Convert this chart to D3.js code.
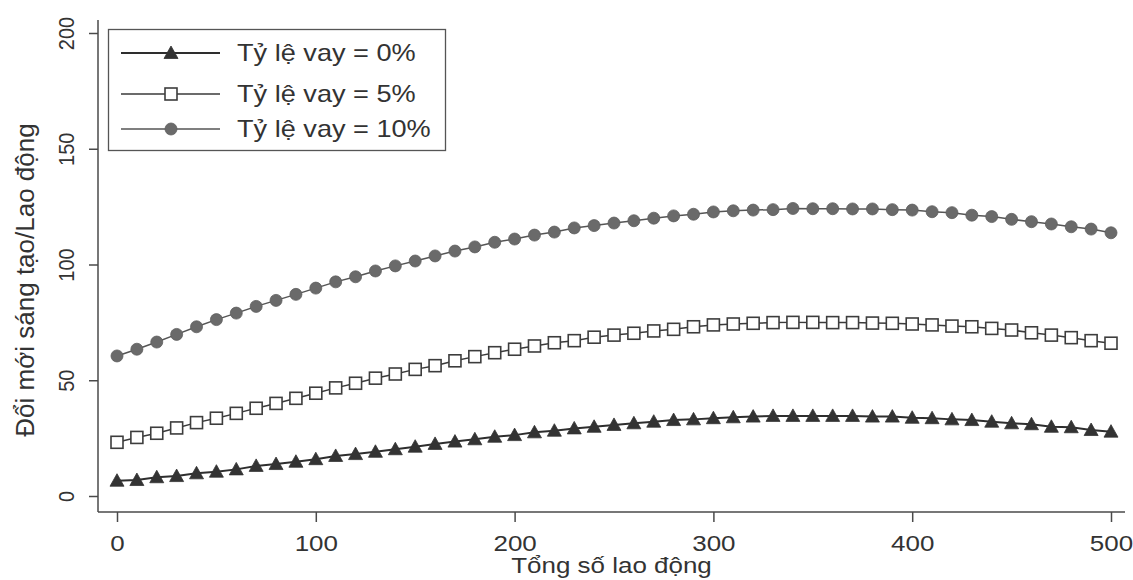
<!DOCTYPE html>
<html>
<head>
<meta charset="utf-8">
<script src="https://cdn.jsdelivr.net/npm/d3@7"></script>
<style>
  body { margin: 0; background: #fff; }
  svg { display: block; font-family: "Liberation Sans", Arial, sans-serif; }
</style>
</head>
<body>
<svg id="chart" width="1133" height="580"></svg>
<script>
// x categories: total labour
const labour = [0, 10, 20, 30, 40, 50, 60, 70, 80, 90, 100, 110, 120, 130, 140, 150, 160, 170, 180, 190,
  200, 210, 220, 230, 240, 250, 260, 270, 280, 290, 300, 310, 320, 330, 340, 350, 360, 370, 380, 390,
  400, 410, 420, 430, 440, 450, 460, 470, 480, 490, 500];

// innovation per labour
const rate0 = [6.6, 6.9, 8.1, 8.6, 9.8, 10.5, 11.5, 13.0, 13.8, 14.8, 15.9, 17.3, 18.1, 19.1, 20.2, 21.3, 22.5, 23.5, 24.5, 25.6,
  26.3, 27.5, 28.2, 29.2, 29.9, 30.7, 31.4, 32.1, 32.8, 33.1, 33.6, 34.0, 34.3, 34.6, 34.6, 34.6, 34.6, 34.6, 34.3, 34.3,
  33.8, 33.6, 33.1, 32.8, 32.1, 31.4, 31.0, 29.9, 29.7, 28.5, 27.8];
const rate5 = [23.2, 25.3, 27.1, 29.4, 31.7, 33.6, 35.7, 37.9, 40.0, 42.2, 44.4, 46.7, 48.7, 50.9, 52.7, 54.7, 56.3, 58.4, 60.2, 61.9,
  63.4, 64.8, 66.2, 67.1, 68.6, 69.5, 70.3, 71.3, 72.0, 73.1, 73.9, 74.3, 74.6, 74.9, 75.0, 75.0, 74.9, 74.9, 74.7, 74.6,
  74.3, 73.9, 73.4, 73.1, 72.4, 71.7, 70.5, 69.5, 68.4, 67.1, 66.0];
const rate10 = [60.5, 63.4, 66.5, 69.8, 73.1, 76.2, 79.0, 81.9, 84.5, 87.1, 89.8, 92.5, 94.7, 97.2, 99.4, 101.5, 103.7, 105.8, 107.6, 109.6,
  111.0, 112.7, 114.0, 115.8, 116.8, 117.9, 118.9, 120.0, 121.0, 121.7, 122.7, 123.2, 123.5, 123.7, 124.2, 124.1, 124.1, 124.0, 124.0, 123.7,
  123.5, 122.8, 122.4, 121.3, 120.7, 119.5, 118.5, 117.5, 116.3, 115.3, 113.7];

const seriesNames = ["Tỷ lệ vay = 0%", "Tỷ lệ vay = 5%", "Tỷ lệ vay = 10%"];
const xTicks = [0, 100, 200, 300, 400, 500];
const yTicks = [0, 50, 100, 150, 200];
const xTitle = "Tổng số lao động";
const yTitle = "Đổi mới sáng tạo/Lao động";

const plot = { left: 98, right: 1125, top: 20, bottom: 512 };
const fs = 22, stretch = 1.18;

const svg = d3.select("#chart");

const x = d3.scaleLinear().domain([0, 500]).range([117, 1111]);
const y = d3.scaleLinear().domain([0, 200]).range([496, 33]);

const axisCol = "#4a4a4a";

// axis lines
svg.append("line")
  .attr("x1", plot.left).attr("x2", plot.left)
  .attr("y1", plot.top).attr("y2", plot.bottom)
  .attr("stroke", axisCol).attr("stroke-width", 1.5);
svg.append("line")
  .attr("x1", plot.left).attr("x2", plot.right)
  .attr("y1", plot.bottom).attr("y2", plot.bottom)
  .attr("stroke", axisCol).attr("stroke-width", 1.5);

// y axis
const yAxis = svg.append("g")
  .attr("transform", `translate(${plot.left},0)`)
  .call(d3.axisLeft(y).tickValues(yTicks).tickSize(9).tickFormat(d3.format("d")));
yAxis.select(".domain").remove();
yAxis.selectAll(".tick line").attr("stroke", axisCol).attr("stroke-width", 1.5);
yAxis.selectAll(".tick text")
  .attr("x", null).attr("dy", null)
  .attr("text-anchor", "middle")
  .attr("font-size", 20)
  .attr("fill", "#333")
  .attr("transform", "translate(-24,0) scale(1.1,1) rotate(-90)");

// x axis
const xAxis = svg.append("g")
  .attr("transform", `translate(0,${plot.bottom})`)
  .call(d3.axisBottom(x).tickValues(xTicks).tickSize(10).tickFormat(d3.format("d")));
xAxis.select(".domain").remove();
xAxis.selectAll(".tick line").attr("stroke", axisCol).attr("stroke-width", 1.5);
xAxis.selectAll(".tick text")
  .attr("y", null).attr("dy", null)
  .attr("text-anchor", "middle")
  .attr("font-size", fs)
  .attr("fill", "#333")
  .attr("transform", `translate(0,39) scale(${stretch},1)`);

// titles
svg.append("text")
  .attr("text-anchor", "middle")
  .attr("font-size", fs)
  .attr("fill", "#333")
  .attr("transform", `translate(${(plot.left + plot.right) / 2},573) scale(${stretch},1)`)
  .text(xTitle);
svg.append("text")
  .attr("text-anchor", "middle")
  .attr("font-size", 26)
  .attr("fill", "#333")
  .attr("transform", "translate(34,280) rotate(-90)")
  .text(yTitle);

// series
const series = [
  { name: seriesNames[0], values: rate0, shape: "triangle", line: "#2e2e2e", lw: 2, fill: "#333", stroke: "#333" },
  { name: seriesNames[1], values: rate5, shape: "square", line: "#3a3a3a", lw: 1.5, fill: "#fff", stroke: "#3d3d3d" },
  { name: seriesNames[2], values: rate10, shape: "circle", line: "#555", lw: 1.5, fill: "#6a6a6a", stroke: "#5e5e5e" }
];

const line = d3.line().x(d => x(d[0])).y(d => y(d[1]));

function drawMarker(g, shape, s) {
  if (shape === "triangle") {
    g.append("path").attr("d", "M0,-7L7,5.5L-7,5.5Z")
      .attr("fill", s.fill).attr("stroke", s.stroke).attr("stroke-width", 0.8);
  } else if (shape === "square") {
    g.append("rect").attr("x", -6).attr("y", -6).attr("width", 12).attr("height", 12)
      .attr("fill", s.fill).attr("stroke", s.stroke).attr("stroke-width", 1.6);
  } else {
    g.append("circle").attr("r", 6)
      .attr("fill", s.fill).attr("stroke", s.stroke).attr("stroke-width", 0.8);
  }
}

series.forEach(s => {
  const pts = labour.map((l, i) => [l, s.values[i]]);
  svg.append("path")
    .datum(pts)
    .attr("d", line)
    .attr("fill", "none")
    .attr("stroke", s.line)
    .attr("stroke-width", s.lw);
  svg.append("g").selectAll("g")
    .data(pts)
    .join("g")
    .attr("transform", d => `translate(${x(d[0])},${y(d[1])})`)
    .each(function () { drawMarker(d3.select(this), s.shape, s); });
});

// legend
const legend = svg.append("g");
legend.append("rect")
  .attr("x", 108.5).attr("y", 29.5).attr("width", 337).attr("height", 121)
  .attr("fill", "#fff").attr("stroke", "#555").attr("stroke-width", 1.3);
const rowY = [53, 94, 129];
series.forEach((s, i) => {
  legend.append("line")
    .attr("x1", 121).attr("x2", 220)
    .attr("y1", rowY[i]).attr("y2", rowY[i])
    .attr("stroke", s.line).attr("stroke-width", s.lw);
  const m = legend.append("g").attr("transform", `translate(171,${rowY[i]})`);
  drawMarker(m, s.shape, s);
  legend.append("text")
    .attr("font-size", 23)
    .attr("fill", "#333")
    .attr("transform", `translate(237,${rowY[i] + 8}) scale(${stretch},1)`)
    .text(s.name);
});
</script>
</body>
</html>
